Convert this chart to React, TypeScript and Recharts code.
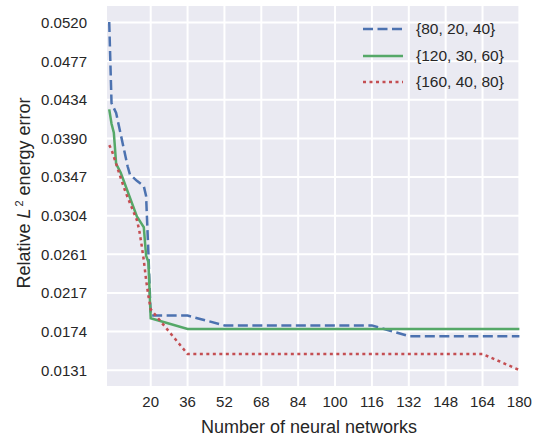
import { LineChart, Line, XAxis, YAxis, CartesianGrid, Legend, Label } from "recharts";

// number of networks / relative error
const blueN = [2, 3, 5, 10, 11, 14, 17, 18, 19, 20, 36, 52, 116, 132, 180];
const blueE = [0.0521, 0.043, 0.0419, 0.0359, 0.035, 0.0343, 0.0337, 0.0326, 0.0262, 0.0192, 0.0192, 0.0181, 0.0181, 0.0169, 0.0169];

const greenN = [2, 3, 4, 5, 7, 14, 16, 17, 18, 19, 20, 36, 180];
const greenE = [0.0423, 0.0407, 0.0397, 0.0362, 0.0352, 0.0303, 0.0295, 0.0291, 0.0259, 0.0252, 0.0189, 0.0177, 0.0177];

const redN = [2, 3, 4, 5, 7, 9, 11, 14, 15, 16, 17, 18, 19, 20, 36, 164, 180];
const redE = [0.0383, 0.0378, 0.037, 0.0362, 0.0346, 0.0331, 0.0318, 0.0299, 0.0288, 0.0272, 0.0254, 0.0232, 0.0214, 0.0199, 0.0149, 0.0149, 0.0131];

const xTicks = [20, 36, 52, 68, 84, 100, 116, 132, 148, 164, 180];
const yTicks = [0.01308, 0.01741, 0.02173, 0.02606, 0.03039, 0.03472, 0.03905, 0.04338, 0.0477, 0.05203];
const yTickLabels = ["0.0131", "0.0174", "0.0217", "0.0261", "0.0304", "0.0347", "0.0390", "0.0434", "0.0477", "0.0520"];

const series = [
  { name: "{80, 20, 40}", color: "#4C72B0", dash: "10 4.5", data: blueN.map((n, i) => ({ n, e: blueE[i] })) },
  { name: "{120, 30, 60}", color: "#55A868", dash: undefined, data: greenN.map((n, i) => ({ n, e: greenE[i] })) },
  { name: "{160, 40, 80}", color: "#C44E52", dash: "3 3.5", data: redN.map((n, i) => ({ n, e: redE[i] })) },
];

const font = "'Liberation Sans', Arial, sans-serif";
const textColor = "#262626";

function yLabel(v: number) {
  let best = 0;
  yTicks.forEach((t, i) => {
    if (Math.abs(t - v) < Math.abs(yTicks[best] - v)) best = i;
  });
  return yTickLabels[best];
}

function MyLegend() {
  return (
    <div style={{ fontFamily: font, fontSize: 15.5, color: textColor }}>
      {series.map((s) => (
        <div key={s.name} style={{ display: "flex", alignItems: "center", height: 26.4 }}>
          <svg width={40} height={10} style={{ marginRight: 13 }}>
            <line x1={0} y1={5} x2={40} y2={5} stroke={s.color} strokeWidth={2.5} strokeDasharray={s.dash} />
          </svg>
          <span>{s.name}</span>
        </div>
      ))}
    </div>
  );
}

export default function App() {
  return (
    <div style={{ position: "absolute", left: 0, top: 0, background: "#fff" }}>
      <LineChart width={538} height={437} margin={{ top: 5, right: 17, left: 0, bottom: 0 }}>
        <CartesianGrid fill="#EAEAF2" stroke="#ffffff" strokeWidth={2} />
        <XAxis
          dataKey="n"
          type="number"
          domain={[0.6, 180.7]}
          ticks={xTicks}
          allowDataOverflow
          axisLine={false}
          tickLine={false}
          tickSize={0}
          tickMargin={9}
          height={50}
          tick={{ fill: textColor, fontSize: 15, fontFamily: font }}
        >
          <Label
            content={() => (
              <text x={309} y={433} textAnchor="middle" fill={textColor} fontSize={18} fontFamily={font}>
                Number of neural networks
              </text>
            )}
          />
        </XAxis>
        <YAxis
          type="number"
          domain={[0.0112, 0.054]}
          ticks={yTicks}
          allowDataOverflow
          axisLine={false}
          tickLine={false}
          tickSize={0}
          tickMargin={19}
          width={106}
          tickFormatter={yLabel}
          tick={{ fill: textColor, fontSize: 15, fontFamily: font }}
        >
          <Label
            content={() => (
              <text
                x={30}
                y={193}
                transform="rotate(-90, 30, 193)"
                textAnchor="middle"
                fill={textColor}
                fontSize={18}
                fontFamily={font}
              >
                Relative <tspan fontStyle="italic">L</tspan>
                <tspan fontSize={11} dy={-7} dx={2}>2</tspan>
                <tspan dy={7}> energy error</tspan>
              </text>
            )}
          />
        </YAxis>
        <Legend
          layout="horizontal"
          verticalAlign="middle"
          align="center"
          content={() => <MyLegend />}
          wrapperStyle={{ left: 363, top: 16, width: 170, height: 80 }}
        />
        {series.map((s) => (
          <Line
            key={s.name}
            data={s.data}
            dataKey="e"
            name={s.name}
            type="linear"
            stroke={s.color}
            strokeWidth={2.5}
            strokeDasharray={s.dash}
            dot={false}
            activeDot={false}
            isAnimationActive={false}
          />
        ))}
      </LineChart>
    </div>
  );
}
